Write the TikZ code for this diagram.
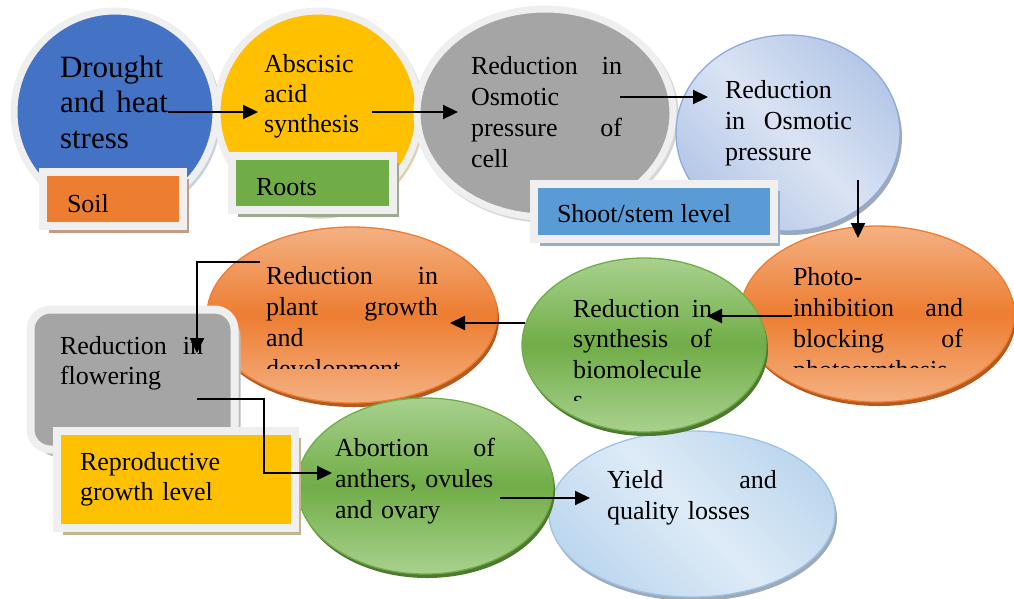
\documentclass[tikz,border=0pt]{standalone}
\usepackage{fontspec}
\setmainfont{Liberation Serif}
\usetikzlibrary{arrows.meta,shapes.geometric,shadows}
\definecolor{blueD}{HTML}{4472C4}
\definecolor{yellowD}{HTML}{FFC000}
\definecolor{greyD}{HTML}{A5A5A5}
\definecolor{orangeD}{HTML}{ED7D31}
\definecolor{orangeL}{HTML}{F4B183}
\definecolor{orangeS}{HTML}{B45A1E}
\definecolor{greenD}{HTML}{70AD47}
\definecolor{greenL}{HTML}{A9D18E}
\definecolor{greenS}{HTML}{4E7A30}
\definecolor{ringc}{HTML}{EFEFEF}
\definecolor{lbA}{HTML}{DAE3F3}
\definecolor{lbB}{HTML}{B4C7E7}
\definecolor{lbE}{HTML}{8FAADC}
\definecolor{ylA}{HTML}{DEEBF7}
\definecolor{ylB}{HTML}{BDD7EE}
\definecolor{ylE}{HTML}{9DC3E6}
\definecolor{shootB}{HTML}{5B9BD5}
\definecolor{shBlue}{HTML}{A3B2CF}
\definecolor{shYel}{HTML}{C9B27E}
\definecolor{shGrey}{HTML}{BDBDBD}
\definecolor{shSoil}{HTML}{C49C86}
\definecolor{shRoots}{HTML}{9DAA8E}
\definecolor{shShoot}{HTML}{98ADC6}
\definecolor{shRepro}{HTML}{C4B58C}
\definecolor{shLB}{HTML}{9EA9BA}
\begin{document}
\begin{tikzpicture}[x=1pt,y=-1pt,
  ringshape/.style={ellipse, inner sep=0pt, draw=ringc, line width=7pt,
    drop shadow={shadow scale=1.03, shadow xshift=2pt, shadow yshift=-2.5pt, fill=#1, opacity=0.6}},
  bubble/.style={ellipse, inner sep=0pt, line width=1.3pt},
  bshadow/.style={drop shadow={shadow xshift=2pt, shadow yshift=-4pt, fill=#1, opacity=1}},
  framebox/.style={rectangle, inner sep=0pt, draw=ringc, line width=8pt,
    drop shadow={shadow xshift=6pt, shadow yshift=-7pt, fill=#1, opacity=1}},
  txt/.style={anchor=base west, inner sep=0pt, outer sep=0pt, align=left,
    font=\fontsize{26}{31}\selectfont},
  arrowline/.style={line width=2.2pt, -{Triangle[length=15pt,width=14pt]}},
  orangefill/.style={draw=orangeD, top color=orangeL, bottom color=orangeL, middle color=orangeD},
  greenfill/.style={draw=greenD, top color=greenL, bottom color=greenL, middle color=greenD},
]
\useasboundingbox (0,0) rectangle (1014,598);

% ---- top row circles
\node[ringshape=shBlue, fill=blueD, minimum width=202pt, minimum height=202pt] (drought) at (115,112) {};
\node[ringshape=shYel, fill=yellowD, minimum width=202pt, minimum height=202pt] (aba) at (318,112) {};
\node[ringshape=shGrey, fill=greyD, minimum width=256pt, minimum height=208pt] (cellosm) at (545,113) {};
\node[bubble, bshadow=shLB, draw=lbE, top color=lbB, bottom color=lbB, middle color=lbA, shading angle=-45,
  minimum width=224pt, minimum height=196pt] (osm) at (788,133) {};

\node[txt, text width=108pt, font=\fontsize{31}{35.5}\selectfont] (tdrought) at (60,77) {Drought\\ and\hfill heat\\ stress};
\node[txt, text width=150pt, font=\fontsize{26}{30}\selectfont] (taba) at (264,72) {Abscisic\\ acid\\ synthesis};
\node[txt, text width=151pt] (tcell) at (471,74) {Reduction\hfill in\\ Osmotic\\ pressure\hfill of\\ cell};
\node[txt, text width=127pt] (tosm) at (725,98) {Reduction\\ in\hfill Osmotic\\ pressure};

% ---- level boxes (top)
\node[framebox=shSoil, fill=orangeD, minimum width=140pt, minimum height=54pt] (soil) at (113,199) {};
\node[txt] (tsoil) at (67,212) {Soil};
\node[framebox=shRoots, fill=greenD, minimum width=161pt, minimum height=54pt] (roots) at (312.5,183) {};
\node[txt] (troots) at (256,195) {Roots};
\node[framebox=shShoot, fill=shootB, minimum width=240pt, minimum height=55pt] (shoot) at (654,211.5) {};
\node[txt] (tshoot) at (557,222) {Shoot/stem level};

% ---- middle row
\node[bubble, bshadow=orangeS, orangefill, minimum width=274pt, minimum height=176pt] (photo) at (877,314) {};
\begin{scope}
  \clip (780,262) rectangle (990,367);
  \node[txt, text width=170pt] (tphoto) at (793,285) {Photo-\\ inhibition\hfill and\\ blocking\hfill of\\ photosynthesis};
\end{scope}

\node[bubble, bshadow=shLB, draw=ylE, top color=ylB, bottom color=ylB, middle color=ylA, shading angle=-45,
  minimum width=286pt, minimum height=166pt] (yield) at (692,514) {};

\node[bubble, bshadow=greenS, greenfill, minimum width=244pt, minimum height=174pt] (biomol) at (644,345) {};
\begin{scope}
  \clip (560,290) rectangle (730,400);
  \node[txt, text width=139pt, font=\fontsize{26}{30.5}\selectfont] (tbiomol) at (573,317) {Reduction\hfill in\\ synthesis\hfill of\\ biomolecule\\ s};
\end{scope}

\node[bubble, bshadow=orangeS, orangefill, minimum width=290pt, minimum height=176pt] (plant) at (352,315) {};
\begin{scope}
  \clip (250,260) rectangle (450,368);
  \node[txt, text width=172pt] (tplant) at (266,284) {Reduction\hfill in\\ plant\hfill growth\\ and\\ development};
\end{scope}

% ---- bottom row
\node[bubble, bshadow=greenS, greenfill, minimum width=256pt, minimum height=176pt] (abort) at (425,486) {};
\node[txt, text width=160pt] (tabort) at (335,456) {Abortion\hfill of\\ anthers, ovules\\ and ovary};
\node[txt, text width=170pt] (tyield) at (607,488) {Yield\hfill and\\ quality losses};

\node[framebox=shGrey, rounded corners=20pt, fill=greyD, minimum width=204pt, minimum height=140pt] (flower) at (132.5,379.5) {};
\node[txt, text width=143pt, font=\fontsize{26}{30}\selectfont] (tflower) at (60,354) {Reduction\hfill in\\ flowering};

\node[framebox=shRepro, fill=yellowD, minimum width=238pt, minimum height=97pt] (repro) at (176,479.5) {};
\node[txt, text width=200pt, font=\fontsize{26}{30}\selectfont] (trepro) at (80,470) {Reproductive\\ growth level};

% ---- connectors
\coordinate (a1s) at (168,112); \coordinate (a1e) at (258,112);
\coordinate (a2s) at (372,112); \coordinate (a2e) at (458,112);
\coordinate (a3s) at (620,97);  \coordinate (a3e) at (708,97);
\coordinate (a4s) at (858,180); \coordinate (a4e) at (858,238);
\coordinate (a5s) at (792,316); \coordinate (a5e) at (707,316);
\coordinate (a6s) at (525,323); \coordinate (a6e) at (450,323);
\coordinate (a7s) at (260,262); \coordinate (a7e) at (197,353);
\coordinate (a8s) at (197,399); \coordinate (a8m) at (264,473); \coordinate (a8e) at (332,473);
\coordinate (a9s) at (500,498); \coordinate (a9e) at (590,498);

\draw[arrowline] (a1s) -- (a1e);
\draw[arrowline] (a2s) -- (a2e);
\draw[arrowline] (a3s) -- (a3e);
\draw[arrowline] (a4s) -- (a4e);
\draw[arrowline] (a5s) -- (a5e);
\draw[arrowline] (a6s) -- (a6e);
\draw[arrowline] (a7s) -| (a7e);
\draw[arrowline] (a8s) -| (a8m) -- (a8e);
\draw[arrowline] (a9s) -- (a9e);
\end{tikzpicture}
\end{document}
